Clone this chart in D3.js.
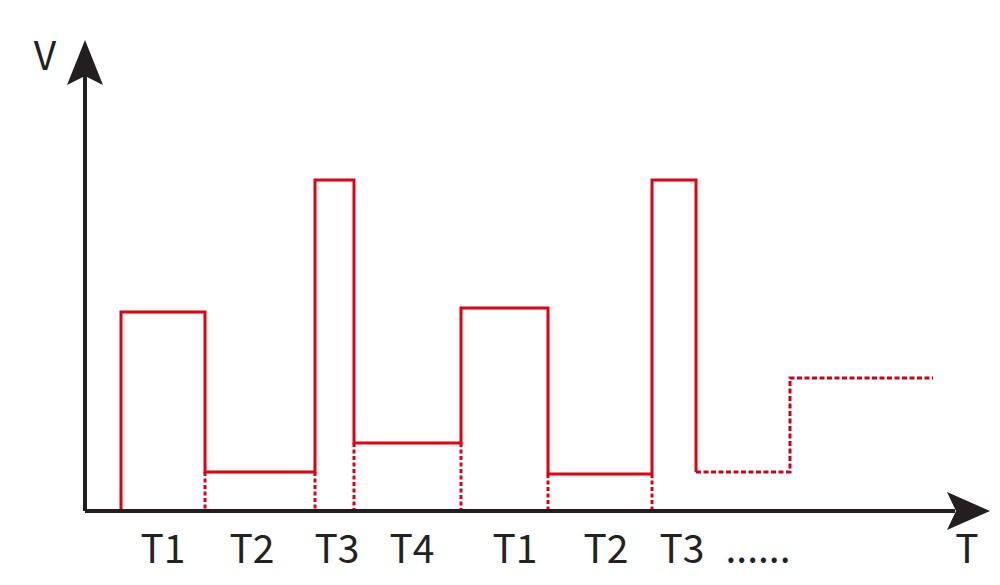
<!DOCTYPE html>
<html>
<head>
<meta charset="utf-8">
<script src="https://cdn.jsdelivr.net/npm/d3@7"></script>
<style>
  html, body { margin: 0; padding: 0; background: #fff; }
  svg { display: block; }
  text { font-family: "Noto Sans CJK SC", "Noto Sans", sans-serif; fill: #222; }
</style>
</head>
<body>
<svg id="chart" width="1000" height="585"></svg>
<script>
// ---- data (time units, value units) ----
const solidTimes = [36, 120, 230, 269, 376, 463, 567, 611];   // step boundaries of the solid part
const solidLevels = [199, 39, 331, 68, 203, 37, 331];          // level between consecutive boundaries
const dashTimes = [611, 705, 848];                             // continuation (dashed)
const dashLevels = [39, 133];
const tickLabels = ["T1", "T2", "T3", "T4", "T1", "T2", "T3", "......"];
const tickTimes = [78, 167, 252, 327, 430, 521, 597, 673];
const xTitle = "T";
const yTitle = "V";

const svg = d3.select("#chart");
const x = d3.scaleLinear().domain([0, 905]).range([85, 990]);
const y = d3.scaleLinear().domain([0, 471]).range([511, 40]);

const red = "#e0000f";
const axisCol = "#231f20";

function stepPoints(times, levels) {
  const pts = [];
  levels.forEach((v, i) => {
    pts.push([times[i], v]);
    pts.push([times[i + 1], v]);
  });
  return pts;
}
const line = d3.line().x(d => x(d[0])).y(d => y(d[1]));

// dashed drop lines at interior boundaries of the solid part
const drops = [];
for (let i = 1; i < solidLevels.length; i++) {
  drops.push({ t: solidTimes[i], v: Math.min(solidLevels[i - 1], solidLevels[i]) });
}
svg.append("g").selectAll("line").data(drops).join("line")
  .attr("x1", d => x(d.t)).attr("x2", d => x(d.t))
  .attr("y1", d => y(d.v)).attr("y2", y(0))
  .attr("stroke", red).attr("stroke-width", 3).attr("stroke-dasharray", "4,2.5");

// solid step path: rises from the axis, ends dropping to the first dashed level
const solidPts = [[solidTimes[0], 0], ...stepPoints(solidTimes, solidLevels),
  [solidTimes[solidTimes.length - 1], dashLevels[0]]];
svg.append("path")
  .attr("d", line(solidPts))
  .attr("fill", "none").attr("stroke", red).attr("stroke-width", 3)
  .attr("stroke-linejoin", "miter");

// dashed continuation
svg.append("path")
  .attr("d", line(stepPoints(dashTimes, dashLevels)))
  .attr("fill", "none").attr("stroke", "#c8001e").attr("stroke-width", 3)
  .attr("stroke-dasharray", "5,2.5");

// axes
svg.append("line").attr("x1", x(0)).attr("x2", x(870)).attr("y1", y(0)).attr("y2", y(0))
  .attr("stroke", axisCol).attr("stroke-width", 4);
svg.append("line").attr("x1", x(0)).attr("x2", x(0)).attr("y1", y(0)).attr("y2", y(440))
  .attr("stroke", axisCol).attr("stroke-width", 4);

// arrowheads
const xe = x(905), ye = y(0);
svg.append("path")
  .attr("d", `M${xe},${ye} L${xe - 43},${ye - 19} L${xe - 34},${ye} L${xe - 43},${ye + 19} Z`)
  .attr("fill", axisCol);
const xa = x(0), ya = y(471);
svg.append("path")
  .attr("d", `M${xa},${ya} L${xa - 18},${ya + 45} L${xa},${ya + 36} L${xa + 18},${ya + 45} Z`)
  .attr("fill", axisCol);

// tick labels
svg.append("g").selectAll("text").data(tickLabels).join("text")
  .attr("x", (d, i) => x(tickTimes[i]))
  .attr("y", 563)
  .attr("text-anchor", "middle")
  .attr("font-size", 39)
  .text(d => d);

// axis titles
svg.append("text").attr("x", 967).attr("y", 563).attr("text-anchor", "middle")
  .attr("font-size", 39).text(xTitle);
svg.append("text").attr("x", 45).attr("y", 70).attr("text-anchor", "middle")
  .attr("font-size", 39).text(yTitle);
</script>
</body>
</html>
